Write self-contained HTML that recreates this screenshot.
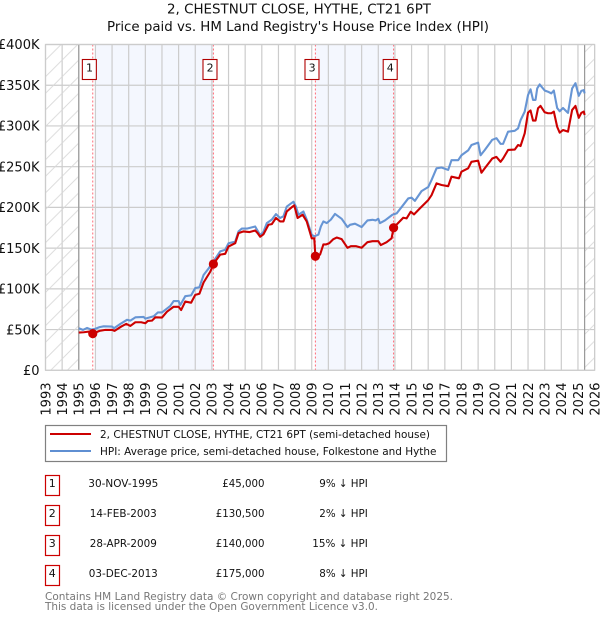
<!DOCTYPE html>
<html>
<head>
<meta charset="utf-8">
<title>2, Chestnut Close, Hythe house price chart</title>
<style>
html,body{margin:0;padding:0;background:#fff;width:600px;height:620px;overflow:hidden}
svg{display:block}
text{font-family:"DejaVu Sans","Liberation Sans",sans-serif;fill:#111}
</style>
</head>
<body>
<svg id="chart" width="600" height="620" viewBox="0 0 600 620" xmlns="http://www.w3.org/2000/svg">
<defs>
<pattern id="hatch" patternUnits="userSpaceOnUse" width="16.6" height="16.6" patternTransform="translate(6 0)">
<path d="M-2 18.6L18.6 -2M-2 2L2 -2M14.6 18.6L18.6 14.6" stroke="#d8d8d8" stroke-width="0.9" fill="none"/>
</pattern>
</defs>
<text x="299" y="13.5" text-anchor="middle" font-size="13" textLength="264" lengthAdjust="spacingAndGlyphs">2, CHESTNUT CLOSE, HYTHE, CT21 6PT</text>
<text x="298" y="31" text-anchor="middle" font-size="13" textLength="382" lengthAdjust="spacingAndGlyphs">Price paid vs. HM Land Registry's House Price Index (HPI)</text>
<g id="plot"></g>

<g>
<rect x="45.5" y="425.5" width="401" height="36" fill="#fff" stroke="#808080" stroke-width="1.2"/>
<line x1="50" x2="91" y1="434" y2="434" stroke="#cc0000" stroke-width="2"/>
<text x="100" y="438" font-size="11" textLength="330" lengthAdjust="spacingAndGlyphs">2, CHESTNUT CLOSE, HYTHE, CT21 6PT (semi-detached house)</text>
<line x1="50" x2="91" y1="451" y2="451" stroke="#5f8fd2" stroke-width="2"/>
<text x="100" y="455" font-size="11" textLength="336.5" lengthAdjust="spacingAndGlyphs">HPI: Average price, semi-detached house, Folkestone and Hythe</text>
</g>

<g font-size="11">
<rect x="45.5" y="475.5" width="14" height="20" fill="#fff" stroke="#cc0000" stroke-width="1.2"/>
<text x="52.3" y="487" text-anchor="middle">1</text>
<text x="123.3" y="487" text-anchor="middle" textLength="70" lengthAdjust="spacingAndGlyphs">30-NOV-1995</text>
<text x="264.5" y="487" text-anchor="end" textLength="42.3" lengthAdjust="spacingAndGlyphs">£45,000</text>
<text x="367.8" y="487" text-anchor="end" textLength="48.5" lengthAdjust="spacingAndGlyphs">9% ↓ HPI</text>

<rect x="45.5" y="505.5" width="14" height="20" fill="#fff" stroke="#cc0000" stroke-width="1.2"/>
<text x="52.3" y="517" text-anchor="middle">2</text>
<text x="123.3" y="517" text-anchor="middle" textLength="67" lengthAdjust="spacingAndGlyphs">14-FEB-2003</text>
<text x="264.5" y="517" text-anchor="end" textLength="48.7" lengthAdjust="spacingAndGlyphs">£130,500</text>
<text x="367.8" y="517" text-anchor="end" textLength="48.5" lengthAdjust="spacingAndGlyphs">2% ↓ HPI</text>

<rect x="45.5" y="535.5" width="14" height="20" fill="#fff" stroke="#cc0000" stroke-width="1.2"/>
<text x="52.3" y="547" text-anchor="middle">3</text>
<text x="123.3" y="547" text-anchor="middle" textLength="67" lengthAdjust="spacingAndGlyphs">28-APR-2009</text>
<text x="264.5" y="547" text-anchor="end" textLength="48.7" lengthAdjust="spacingAndGlyphs">£140,000</text>
<text x="367.8" y="547" text-anchor="end" textLength="55.5" lengthAdjust="spacingAndGlyphs">15% ↓ HPI</text>

<rect x="45.5" y="565.5" width="14" height="20" fill="#fff" stroke="#cc0000" stroke-width="1.2"/>
<text x="52.3" y="577" text-anchor="middle">4</text>
<text x="123.3" y="577" text-anchor="middle" textLength="69" lengthAdjust="spacingAndGlyphs">03-DEC-2013</text>
<text x="264.5" y="577" text-anchor="end" textLength="48.7" lengthAdjust="spacingAndGlyphs">£175,000</text>
<text x="367.8" y="577" text-anchor="end" textLength="48.5" lengthAdjust="spacingAndGlyphs">8% ↓ HPI</text>
</g>

<text x="45" y="600" font-size="11" style="fill:#777" textLength="408" lengthAdjust="spacingAndGlyphs">Contains HM Land Registry data © Crown copyright and database right 2025.</text>
<text x="45" y="610" font-size="11" style="fill:#777" textLength="333" lengthAdjust="spacingAndGlyphs">This data is licensed under the Open Government Licence v3.0.</text>
</svg>

<script>
var yearTicks = [1993,1994,1995,1996,1997,1998,1999,2000,2001,2002,2003,2004,2005,2006,2007,2008,2009,2010,2011,2012,2013,2014,2015,2016,2017,2018,2019,2020,2021,2022,2023,2024,2025,2026];
var priceTicks = [0,50,100,150,200,250,300,350,400];
var priceTickLabels = ["£0","£50K","£100K","£150K","£200K","£250K","£300K","£350K","£400K"];

var hpiDates = [1995,1995.25,1995.5,1995.75,1996,1996.25,1996.5,1997,1997.12,1997.5,1997.9,1998.1,1998.4,1998.9,1999,1999.5,1999.75,2000,2000.25,2000.5,2000.7,2001,2001.1,2001.4,2001.75,2002,2002.25,2002.5,2002.8,2003.09,2003.5,2003.8,2004,2004.4,2004.6,2004.8,2005.1,2005.6,2005.7,2005.9,2006.1,2006.3,2006.6,2006.85,2007.1,2007.3,2007.5,2007.9,2008.05,2008.2,2008.5,2008.7,2009,2009.15,2009.4,2009.55,2009.7,2009.9,2010.15,2010.4,2010.8,2011.15,2011.3,2011.6,2012,2012.35,2012.65,2012.85,2013,2013.1,2013.4,2013.85,2014.1,2014.5,2014.8,2015,2015.2,2015.6,2016,2016.2,2016.5,2016.8,2017.2,2017.4,2017.8,2018,2018.4,2018.6,2019,2019.15,2019.4,2019.85,2020.1,2020.35,2020.5,2020.8,2021.2,2021.4,2021.55,2021.8,2022,2022.15,2022.3,2022.45,2022.55,2022.7,2023,2023.2,2023.4,2023.55,2023.75,2023.9,2024.1,2024.4,2024.65,2024.85,2025.05,2025.2,2025.35,2025.4];
var hpiValues = [51.6,49.6,52,50,51,53,54,53.7,51.6,57,62,61,65,65.5,63.5,66.4,71,71,75,79,85,85,80,91,92,101,102,117,125,133.6,146,148,156,158,170.5,174,174,176.6,173,166,170,180.7,185,191.8,187,189,201,207,201,191,195,185,166.4,164.5,166.5,176.6,182.8,180.7,185,192,186,175.8,178.6,180,175.8,184,184.8,184,186,180.7,184,191,192.6,203,211,212,208,220,225,233.6,248,249,246,258,258,264,270,276.6,279.5,264,270.5,283,285,278,278,293,294,297,307,317.6,338,345,332,332,346,351,343.5,342,340,343.5,322,318,322,316,346,352.5,337,343,344,340];

var paidDates = [1995,1995.3,1995.6,1995.84,1996.25,1996.6,1997,1997.15,1997.55,1997.85,1998.1,1998.4,1998.75,1999,1999.15,1999.4,1999.6,2000,2000.3,2000.7,2001,2001.15,2001.4,2001.75,2002,2002.25,2002.5,2002.9,2003.03,2003.09,2003.5,2003.8,2004,2004.4,2004.6,2004.9,2005.25,2005.6,2005.75,2005.9,2006.1,2006.4,2006.6,2006.85,2007.1,2007.3,2007.5,2007.85,2007.95,2008.15,2008.45,2008.7,2009,2009.15,2009.22,2009.5,2009.7,2009.85,2010.05,2010.3,2010.5,2010.8,2011.15,2011.35,2011.65,2012,2012.35,2012.65,2013,2013.15,2013.5,2013.8,2013.92,2014.2,2014.5,2014.7,2014.95,2015.15,2015.5,2016,2016.2,2016.5,2016.8,2017.2,2017.4,2017.85,2018,2018.4,2018.6,2019,2019.2,2019.4,2019.85,2020.1,2020.35,2020.5,2020.8,2021.2,2021.4,2021.55,2021.8,2022,2022.15,2022.3,2022.45,2022.6,2022.75,2023,2023.2,2023.4,2023.55,2023.75,2023.9,2024.1,2024.4,2024.65,2024.85,2025.05,2025.2,2025.35,2025.4];
var paidValues = [46.3,46.7,47.5,45,48.4,49.6,49.6,48.4,53.7,57,54.5,59,59,57.8,60.6,61,65,64.8,72,78,78,74,84.4,83,92.6,94,107.8,121,127,130.5,142,143,152,156,168.4,170.5,169.7,171.7,168.4,164,167,178.7,179.5,187,182.8,182.8,195,201,202.5,187,191,182.8,162,162,140,142,154.5,154.5,156,161,163,161,150.4,152.4,152.4,150.4,157.3,158.5,158.5,153.7,157.3,162,175,181,187.3,186.5,194.7,191.4,198.8,209,215,229.5,227.5,226,237.7,235.7,243.9,248,256,257.4,242.6,248,260,262,256,260,270.5,271,276.6,275.4,291,316.4,319,306.6,306.6,321.7,324.6,316.8,315.6,315.6,317.6,299,291.8,295,293,319.7,324.6,310,316,317.6,313.5];

var saleDates = [1995.84,2003.09,2009.22,2013.92];
var salePrices = [45,130.5,140,175];
var saleLabels = ["1","2","3","4"];
var shadedBands = [[1996,2003.09],[2009.22,2013.92]];
var dataStart = 1995;
var dataEnd = 2025.4;

var plotLeft = 45.5, plotRight = 594.6, plotTop = 44.5, plotBottom = 370.3;
var NS = "http://www.w3.org/2000/svg";
var plot = document.getElementById("plot");

function x(year){ return plotLeft + (year - 1993) * (plotRight - plotLeft) / 33; }
function y(k){ return plotBottom - k * (plotBottom - plotTop) / 400; }
function add(tag, attrs){
  var el = document.createElementNS(NS, tag);
  for (var k in attrs) el.setAttribute(k, attrs[k]);
  plot.appendChild(el);
  return el;
}
function linePath(dates, values){
  return dates.map(function(d, i){ return (i ? "L" : "M") + x(d).toFixed(2) + " " + y(values[i]).toFixed(2); }).join("");
}

var el;
shadedBands.forEach(function(b){
  el = add("rect", {x: x(b[0]), y: plotTop, width: x(b[1]) - x(b[0]), height: plotBottom - plotTop, fill: "#f4f7fe"});
  
  
});

yearTicks.forEach(function(t){
  el = add("line", {x1: x(t), x2: x(t), y1: plotTop, y2: plotBottom, stroke: "#cccccc", "stroke-width": 1.2});
  
  
});
priceTicks.forEach(function(t){
  el = add("line", {x1: plotLeft, x2: plotRight, y1: y(t), y2: y(t), stroke: "#cccccc", "stroke-width": 1.2});
  
  
});

el = add("rect", {x: x(1993), y: plotTop, width: x(dataStart) - x(1993), height: plotBottom - plotTop, fill: "url(#hatch)"});


el = add("rect", {x: x(dataEnd), y: plotTop, width: x(2026) - x(dataEnd), height: plotBottom - plotTop, fill: "url(#hatch)"});


el = add("line", {x1: x(dataStart), x2: x(dataStart), y1: plotTop, y2: plotBottom, stroke: "#999999", "stroke-width": 1.2});


el = add("line", {x1: x(dataEnd), x2: x(dataEnd), y1: plotTop, y2: plotBottom, stroke: "#999999", "stroke-width": 1.2});



saleDates.forEach(function(d){
  el = add("line", {x1: x(d), x2: x(d), y1: plotTop, y2: plotBottom, stroke: "#ff6b78", "stroke-width": 1, "stroke-dasharray": "2 2"});
  
  
});

el = add("path", {d: linePath(hpiDates, hpiValues), fill: "none", stroke: "#5f8fd2", "stroke-width": 2.1, "stroke-linejoin": "round", opacity: 0.95});


el = add("path", {d: linePath(paidDates, paidValues), fill: "none", stroke: "#cc0000", "stroke-width": 2.1, "stroke-linejoin": "round"});



saleDates.forEach(function(d, i){
  el = add("circle", {cx: x(d), cy: y(salePrices[i]), r: 4.6, fill: "#cc0000"});
  
  
  el = add("rect", {x: x(d) - 10.4, y: 59.5, width: 14, height: 20, fill: "#ffffff", stroke: "#b00000", "stroke-width": 1.1});
  
  
  el = add("text", {x: x(d) - 3.3, y: 71.5, "text-anchor": "middle", "font-size": 11});
  el.textContent = saleLabels[i];
  
  
});

priceTicks.forEach(function(t, i){
  el = add("text", {x: 39.5, y: y(t) + 4.7, "text-anchor": "end", "font-size": 13});
  el.textContent = priceTickLabels[i];
  
  
});
yearTicks.forEach(function(t){
  var px = x(t) + 4.8;
  el = add("text", {x: px, y: 382.5, "text-anchor": "end", "font-size": 13, transform: "rotate(-90 " + px + " 382.5)"});
  el.textContent = t;
  
  
});

el = add("rect", {x: plotLeft, y: plotTop, width: plotRight - plotLeft, height: plotBottom - plotTop, fill: "none", stroke: "#cccccc", "stroke-width": 1.2});


</script>
</body>
</html>
